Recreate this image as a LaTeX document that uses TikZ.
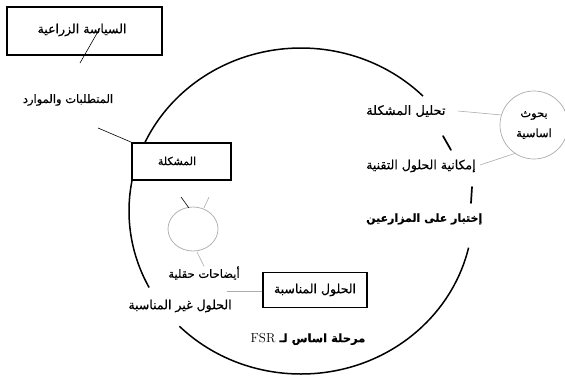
\documentclass[tikz,border=0pt]{standalone}
\usepackage{fontspec}
\usetikzlibrary{shapes.geometric}
\newfontfamily\arabicfont[Script=Arabic, FakeBold=0.6]{DejaVu Sans}
\TeXXeTstate=1
\newcommand\artext[1]{{\arabicfont\beginR #1\endR}}
\begin{document}
\begin{tikzpicture}[x=1pt,y=-1pt,
  box/.style={draw, line width=1.8pt, fill=white, inner sep=0pt},
  lbl/.style={inner sep=0pt, font=\fontsize{11.5}{13}\selectfont},
  blbl/.style={inner sep=0pt, font=\fontsize{11.5}{13}\selectfont\bfseries},
  ring/.style={line width=1.5pt},
  thin/.style={draw=gray!65, line width=0.6pt},
  tick/.style={line width=1.7pt, line cap=round}]
\useasboundingbox (0,0) rectangle (565,378);
% big ring (ellipse) arcs
\coordinate (C) at (301,211);
\tikzset{ringarc/.style={x radius=172pt, y radius=163pt}}
\draw[ring] (C) ++(44.8:172pt and 163pt) arc[start angle=44.8, end angle=155.4, ringarc];
\draw[ring] (C) ++(169:172pt and 163pt) arc[start angle=169, end angle=208, ringarc];
\draw[ring] (C) ++(225:172pt and 163pt) arc[start angle=225, end angle=347, ringarc];
% boxes
\node[box, minimum width=155pt, minimum height=48pt] (pol) at (84.5,31) {};
\node[font=\fontsize{12.5}{14}\selectfont, inner sep=0pt] (polt) at (82,30) {\artext{السياسة الزراعية}};
\node[box, minimum width=99pt, minimum height=37pt] (prob) at (181.5,161.5) {};
\node[font=\fontsize{11}{13}\selectfont, inner sep=0pt] (probt) at (177,161) {\artext{المشكلة}};
\node[box, minimum width=104pt, minimum height=35pt, font=\fontsize{12.5}{14}\selectfont] (sol) at (315,290) {\artext{الحلول المناسبة}};
% labels
\node[lbl] (req) at (68,100) {\artext{المتطلبات والموارد}};
\node[lbl] (demo) at (204,273) {\artext{أيضاحات حقلية}};
\node[lbl, font=\fontsize{12.5}{14}\selectfont] (unsuit) at (180,306) {\artext{الحلول غير المناسبة}};
\node[blbl] (fsr) at (308,339) {\artext{مرحلة اساس لـ \beginL{\rmfamily\mdseries\fontsize{13}{14}\selectfont FSR}\endL}};
\node[lbl, anchor=west, font=\fontsize{13}{14}\selectfont] (anal) at (366,111) {\artext{تحليل المشكلة}};
\node[lbl, anchor=west, font=\fontsize{12.5}{14}\selectfont] (tech) at (366,166) {\artext{إمكانية الحلول التقنية}};
\node[blbl, anchor=west, font=\fontsize{11}{13}\selectfont\bfseries] (test) at (366,219) {\artext{إختبار على المزارعين}};
\node[draw=gray!65, line width=0.7pt, circle, minimum size=68pt, inner sep=0pt, align=center,
      font=\fontsize{11.5}{20}\selectfont] (res) at (534,125) {\artext{بحوث}\\\artext{اساسية}};
% small circle
\node[draw=gray!60, line width=0.8pt, ellipse, minimum width=50pt, minimum height=44pt, inner sep=0pt] (fld) at (193,229) {};
% connectors
\coordinate (p1) at (100,28);
\coordinate (p2) at (80,63);
\draw[line width=0.6pt] (p1) -- (p2);
\coordinate (q1) at (98,128);
\draw[line width=0.6pt] (q1) -- (prob.north west);
\coordinate (a1) at (458,111);
\draw[thin] (a1) -- (res.163);
\coordinate (t1) at (480,165);
\draw[thin] (t1) -- (res.236);
\coordinate (s1) at (227,291);
\draw[thin] (s1) -- (s1 -| sol.west);
\coordinate (f1) at (181,197);
\coordinate (f2) at (189,208);
\draw[line width=0.6pt] (f1) -- (f2);
\coordinate (f3) at (209,197);
\coordinate (f4) at (204,208);
\draw[thin] (f3) -- (f4);
\coordinate (f5) at (197,252);
\draw[thin] (f5) -- (demo.north);
% ticks on the ring
\coordinate (k1) at (443,136);
\coordinate (k2) at (451,150);
\draw[tick] (k1) -- (k2);
\coordinate (k3) at (472,187);
\coordinate (k4) at (471,203);
\draw[tick] (k3) -- (k4);
\end{tikzpicture}
\end{document}
